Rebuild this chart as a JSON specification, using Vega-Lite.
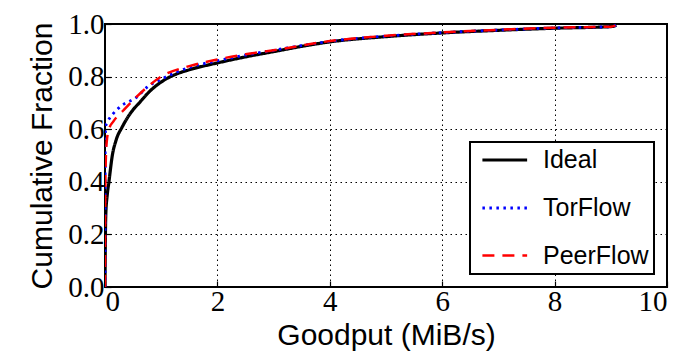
{
  "$schema": "https://vega.github.io/schema/vega-lite/v6.json",
  "width": 562,
  "height": 263,
  "autosize": {"type": "none"},
  "padding": {"left": 105, "top": 24, "right": 18, "bottom": 73},
  "background": "white",
  "config": {
    "view": {"stroke": "black", "strokeWidth": 2},
    "axis": {
      "labelFont": "Liberation Serif",
      "labelFontSize": 29,
      "labelColor": "black",
      "titleFont": "Liberation Sans",
      "titleFontSize": 30,
      "titleFontWeight": "normal",
      "titleColor": "black",
      "domain": false,
      "tickColor": "black",
      "tickSize": -6,
      "tickWidth": 1.2,
      "gridColor": "black",
      "gridDash": [1.5, 3.5],
      "gridWidth": 1,
      "gridOpacity": 1
    },
    "legend": {
      "strokeWidth": 2
    }
  },
  "data": {
    "values": [
      {"x": 0, "y": 0, "series": "Ideal"},
      {"x": 0.005, "y": 0.15, "series": "Ideal"},
      {"x": 0.015, "y": 0.28, "series": "Ideal"},
      {"x": 0.04, "y": 0.35, "series": "Ideal"},
      {"x": 0.07, "y": 0.4, "series": "Ideal"},
      {"x": 0.13, "y": 0.5, "series": "Ideal"},
      {"x": 0.2, "y": 0.56, "series": "Ideal"},
      {"x": 0.31, "y": 0.61, "series": "Ideal"},
      {"x": 0.45, "y": 0.66, "series": "Ideal"},
      {"x": 0.63, "y": 0.705, "series": "Ideal"},
      {"x": 0.8, "y": 0.745, "series": "Ideal"},
      {"x": 1.04, "y": 0.785, "series": "Ideal"},
      {"x": 1.25, "y": 0.808, "series": "Ideal"},
      {"x": 1.5, "y": 0.826, "series": "Ideal"},
      {"x": 2.0, "y": 0.852, "series": "Ideal"},
      {"x": 2.5, "y": 0.875, "series": "Ideal"},
      {"x": 3.0, "y": 0.895, "series": "Ideal"},
      {"x": 3.5, "y": 0.915, "series": "Ideal"},
      {"x": 4.0, "y": 0.932, "series": "Ideal"},
      {"x": 5.0, "y": 0.952, "series": "Ideal"},
      {"x": 6.0, "y": 0.966, "series": "Ideal"},
      {"x": 7.0, "y": 0.976, "series": "Ideal"},
      {"x": 8.0, "y": 0.984, "series": "Ideal"},
      {"x": 9.0, "y": 0.99, "series": "Ideal"},
      {"x": 9.1, "y": 0.995, "series": "Ideal"},
      {"x": 0, "y": 0, "series": "TorFlow"},
      {"x": 0.003, "y": 0.5, "series": "TorFlow"},
      {"x": 0.01, "y": 0.61, "series": "TorFlow"},
      {"x": 0.05, "y": 0.63, "series": "TorFlow"},
      {"x": 0.15, "y": 0.66, "series": "TorFlow"},
      {"x": 0.3, "y": 0.69, "series": "TorFlow"},
      {"x": 0.57, "y": 0.723, "series": "TorFlow"},
      {"x": 0.75, "y": 0.76, "series": "TorFlow"},
      {"x": 1.0, "y": 0.79, "series": "TorFlow"},
      {"x": 1.5, "y": 0.835, "series": "TorFlow"},
      {"x": 2.0, "y": 0.86, "series": "TorFlow"},
      {"x": 2.5, "y": 0.882, "series": "TorFlow"},
      {"x": 3.0, "y": 0.9, "series": "TorFlow"},
      {"x": 4.0, "y": 0.934, "series": "TorFlow"},
      {"x": 5.0, "y": 0.954, "series": "TorFlow"},
      {"x": 6.0, "y": 0.967, "series": "TorFlow"},
      {"x": 7.0, "y": 0.977, "series": "TorFlow"},
      {"x": 8.0, "y": 0.985, "series": "TorFlow"},
      {"x": 9.0, "y": 0.99, "series": "TorFlow"},
      {"x": 9.1, "y": 0.995, "series": "TorFlow"},
      {"x": 0, "y": 0, "series": "PeerFlow"},
      {"x": 0.003, "y": 0.3, "series": "PeerFlow"},
      {"x": 0.01, "y": 0.45, "series": "PeerFlow"},
      {"x": 0.03, "y": 0.55, "series": "PeerFlow"},
      {"x": 0.07, "y": 0.6, "series": "PeerFlow"},
      {"x": 0.15, "y": 0.63, "series": "PeerFlow"},
      {"x": 0.33, "y": 0.672, "series": "PeerFlow"},
      {"x": 0.5, "y": 0.71, "series": "PeerFlow"},
      {"x": 0.75, "y": 0.76, "series": "PeerFlow"},
      {"x": 1.0, "y": 0.8, "series": "PeerFlow"},
      {"x": 1.5, "y": 0.84, "series": "PeerFlow"},
      {"x": 2.0, "y": 0.865, "series": "PeerFlow"},
      {"x": 2.5, "y": 0.885, "series": "PeerFlow"},
      {"x": 3.0, "y": 0.9, "series": "PeerFlow"},
      {"x": 4.0, "y": 0.935, "series": "PeerFlow"},
      {"x": 5.0, "y": 0.955, "series": "PeerFlow"},
      {"x": 6.0, "y": 0.968, "series": "PeerFlow"},
      {"x": 7.0, "y": 0.978, "series": "PeerFlow"},
      {"x": 8.0, "y": 0.986, "series": "PeerFlow"},
      {"x": 9.0, "y": 0.99, "series": "PeerFlow"},
      {"x": 9.1, "y": 0.995, "series": "PeerFlow"}
    ]
  },
  "layer": [
    {
      "mark": {"type": "line", "interpolate": "monotone", "clip": true},
      "encoding": {
        "x": {
          "field": "x", "type": "quantitative",
          "scale": {"domain": [0, 10], "nice": false},
          "axis": {"title": "Goodput (MiB/s)", "values": [0, 2, 4, 6, 8, 10], "format": "d", "labelPadding": 6, "titlePadding": 4}
        },
        "y": {
          "field": "y", "type": "quantitative",
          "scale": {"domain": [0, 1], "nice": false},
          "axis": {"title": "Cumulative Fraction", "values": [0, 0.2, 0.4, 0.6, 0.8, 1.0], "format": ".1f", "labelPadding": 7, "titlePadding": 10}
        },
        "color": {
          "field": "series", "type": "nominal",
          "scale": {"domain": ["Ideal", "TorFlow", "PeerFlow"], "range": ["#000000", "#0000ff", "#ff0000"]},
          "legend": {
            "title": null,
            "orient": "bottom-right",
            "offset": 13,
            "strokeColor": "black",
            "fillColor": "white",
            "padding": 5,
            "rowPadding": 22,
            "labelFont": "Liberation Sans",
            "labelFontSize": 25,
            "labelColor": "black",
            "symbolType": "M-0.5,0H3.5",
            "symbolSize": 500,
            "symbolStrokeWidth": 3.5,
            "labelOffset": 42
          }
        },
        "strokeDash": {
          "field": "series", "type": "nominal",
          "scale": {"domain": ["Ideal", "TorFlow", "PeerFlow"], "range": [[1, 0], [2.5, 4.5], [12, 8]]},
          "legend": {
            "title": null,
            "orient": "bottom-right",
            "offset": 13,
            "strokeColor": "black",
            "fillColor": "white",
            "padding": 5,
            "rowPadding": 22,
            "labelFont": "Liberation Sans",
            "labelFontSize": 25,
            "labelColor": "black",
            "symbolType": "M-0.5,0H3.5",
            "symbolSize": 500,
            "symbolStrokeWidth": 3.5,
            "labelOffset": 42
          }
        },
        "strokeWidth": {
          "field": "series", "type": "nominal",
          "scale": {"domain": ["Ideal", "TorFlow", "PeerFlow"], "range": [3.2, 2.5, 3.5]},
          "legend": null
        }
      }
    }
  ]
}
